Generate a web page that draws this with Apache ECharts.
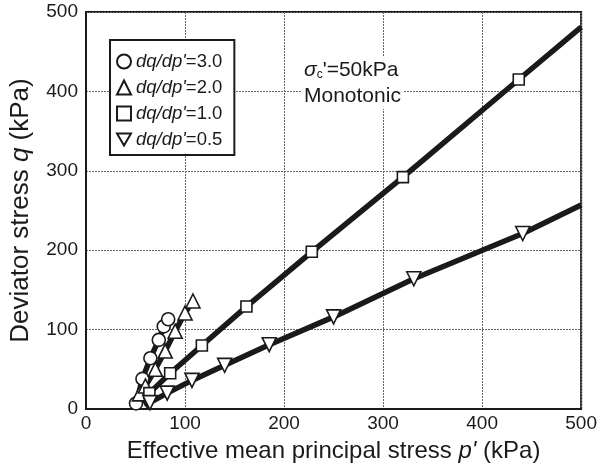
<!DOCTYPE html>
<html>
<head>
<meta charset="utf-8">
<script src="https://cdn.jsdelivr.net/npm/echarts@6/dist/echarts.min.js"></script>
<style>
  html, body { margin: 0; padding: 0; background: #fff; }
  #chart { width: 600px; height: 470px; }
</style>
</head>
<body>
<div id="chart"></div>
<script>
// Stress paths in p'-q space for constant dq/dp' loading (σc' = 50 kPa)
const pathNames = ['3.0', '2.0', '1.0', '0.5'];

// Measured points (p', q) in kPa shown with markers
const path30 = [[50.5, 7], [57, 38], [65, 64], [73.5, 87], [78.5, 104], [83, 113]];
const path20 = [[54, 19], [60, 29], [70, 50], [80, 73], [90, 98], [100, 121], [108, 136]];
const path10 = [[64, 20], [85, 45], [117, 80], [162, 129], [228, 198], [320, 292], [437, 415]];
const path05 = [[64.5, 8], [82, 20], [107, 36], [140, 55], [185, 81], [250, 116], [331, 164], [441, 221]];

// Continuous traces of each path (start and end of the loading)
const trace30 = [[50, 4], ...path30];
const trace20 = [[53, 12], ...path20];
const trace10 = [[57, 8], ...path10, [500, 481]];
const trace05 = [[60, 3], ...path05, [500, 257]];

const xTicks = [0, 100, 200, 300, 400, 500];
const yTicks = [0, 100, 200, 300, 400, 500];

const FONT = 'Liberation Sans, Arial, sans-serif';
const INK = '#1a1a1a';

const symbols = ['circle', 'triangle', 'rect', 'path://M0,0 L12,0 L6,10.4 Z'];
const sizes = [13, 14, 11, 14];
const markerSets = [path30, path20, path10, path05];
const traces = [trace30, trace20, trace10, trace05];

const series = [];
traces.forEach((t) => {
  series.push({
    type: 'line',
    data: t,
    showSymbol: false,
    silent: true,
    z: 2,
    lineStyle: { color: INK, width: 5.5 },
    animation: false
  });
});
markerSets.forEach((m, i) => {
  series.push({
    name: pathNames[i],
    type: 'scatter',
    data: m,
    symbol: symbols[i],
    symbolSize: sizes[i],
    z: 5,
    itemStyle: { color: '#fff', borderColor: INK, borderWidth: 1.6, opacity: 1 },
    animation: false
  });
});

const chart = echarts.init(document.getElementById('chart'), null, { renderer: 'canvas' });
chart.setOption({
  backgroundColor: '#fff',
  animation: false,
  textStyle: { fontFamily: FONT },
  grid: { left: 84, right: 18, top: 12, bottom: 61, show: true, borderColor: INK, borderWidth: 2 },
  xAxis: {
    type: 'value', min: 0, max: 500, interval: 100,
    axisLine: { show: true, lineStyle: { color: INK, width: 2 } },
    axisTick: { show: false },
    axisLabel: { color: INK, fontSize: 19, fontFamily: FONT, margin: 5,
      formatter: v => xTicks.includes(v) ? String(v) : '' },
    splitLine: { show: true, lineStyle: { color: '#666', type: [2, 1], width: 1 } },
    name: "{t|Effective mean principal stress }{i|p'}{t| (kPa)}",
    nameLocation: 'middle', nameGap: 30,
    nameTextStyle: {
      rich: {
        t: { fontSize: 24, color: INK, fontFamily: FONT },
        i: { fontSize: 24, color: INK, fontFamily: FONT, fontStyle: 'italic' }
      }
    }
  },
  yAxis: {
    type: 'value', min: 0, max: 500, interval: 100,
    axisLine: { show: true, lineStyle: { color: INK, width: 2 } },
    axisTick: { show: false },
    axisLabel: { color: INK, fontSize: 19, fontFamily: FONT, margin: 8,
      formatter: v => yTicks.includes(v) ? String(v) : '' },
    splitLine: { show: true, lineStyle: { color: '#666', type: [2, 1], width: 1 } },
    name: '{t|Deviator stress }{i|q}{t| (kPa)}',
    nameLocation: 'middle', nameGap: 52,
    nameTextStyle: {
      rich: {
        t: { fontSize: 26, color: INK, fontFamily: FONT },
        i: { fontSize: 26, color: INK, fontFamily: FONT, fontStyle: 'italic' }
      }
    }
  },
  legend: {
    show: true,
    orient: 'vertical',
    left: 110, top: 40,
    padding: [12, 12, 6, 6],
    itemGap: 7,
    itemWidth: 14, itemHeight: 14,
    backgroundColor: '#fff',
    borderColor: INK, borderWidth: 2,
    data: pathNames,
    formatter: n => "{i|dq/dp'}{t|=" + n + '}',
    textStyle: {
      rich: {
        i: { fontSize: 18.5, lineHeight: 18, color: INK, fontFamily: FONT, fontStyle: 'italic' },
        t: { fontSize: 18.5, lineHeight: 18, color: INK, fontFamily: FONT }
      }
    },
    selectedMode: false
  },
  graphic: [
    {
      type: 'text',
      left: 302, top: 57,
      z: 10,
      style: {
        text: "{s|σ}{c|c}{t|'=50kPa}\n{t|Monotonic}",
        backgroundColor: '#fff',
        padding: [0, 2, 0, 2],
        rich: {
          s: { fontSize: 21, lineHeight: 26, fill: INK, fontFamily: FONT, fontStyle: 'italic' },
          c: { fontSize: 12, lineHeight: 26, fill: INK, fontFamily: FONT, padding: [9, 0, 0, 0] },
          t: { fontSize: 21, lineHeight: 26, fill: INK, fontFamily: FONT }
        }
      }
    }
  ],
  series: series
});
</script>
</body>
</html>
